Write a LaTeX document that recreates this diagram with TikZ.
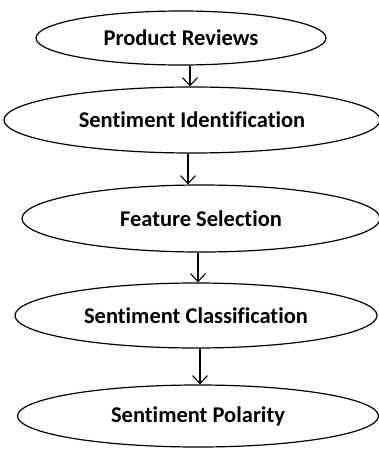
\documentclass[tikz,border=0pt]{standalone}
\usepackage{fontspec}
\setmainfont{Carlito}[Ligatures={NoCommon,NoRequired,NoContextual},RawFeature={-liga;-clig;-dlig}]
\usetikzlibrary{shapes.geometric,arrows.meta}
\begin{document}
\begin{tikzpicture}[x=1pt,y=1pt,
  stage/.style={ellipse,draw,line width=1.2pt,inner sep=0pt,font=\bfseries\fontsize{22.5}{24}\selectfont},
  flow/.style={line width=1.1pt,-{Straight Barb[length=8pt,width=15pt,line width=1.1pt]}}]
\useasboundingbox (0,0) rectangle (379,-450);
\node[stage,minimum width=290pt,minimum height=54pt] (a) at (181,-38) {Product Reviews};
\node[stage,minimum width=376pt,minimum height=66pt] (b) at (192,-120) {Sentiment Identification};
\node[stage,minimum width=358pt,minimum height=67pt] (c) at (201,-218.5) {Feature Selection};
\node[stage,minimum width=362pt,minimum height=65pt] (d) at (196,-315.5) {Sentiment Classification};
\node[stage,minimum width=361pt,minimum height=62pt] (e) at (198,-416) {Sentiment Polarity};
\draw[flow] (a.south -| 190,0) -- (b.north -| 190,0);
\draw[flow] (b.south -| 188,0) -- (c.north -| 188,0);
\draw[flow] (c.south -| 198,0) -- (d.north -| 198,0);
\draw[flow] (d.south -| 200,0) -- (e.north -| 200,0);
\end{tikzpicture}
\end{document}
